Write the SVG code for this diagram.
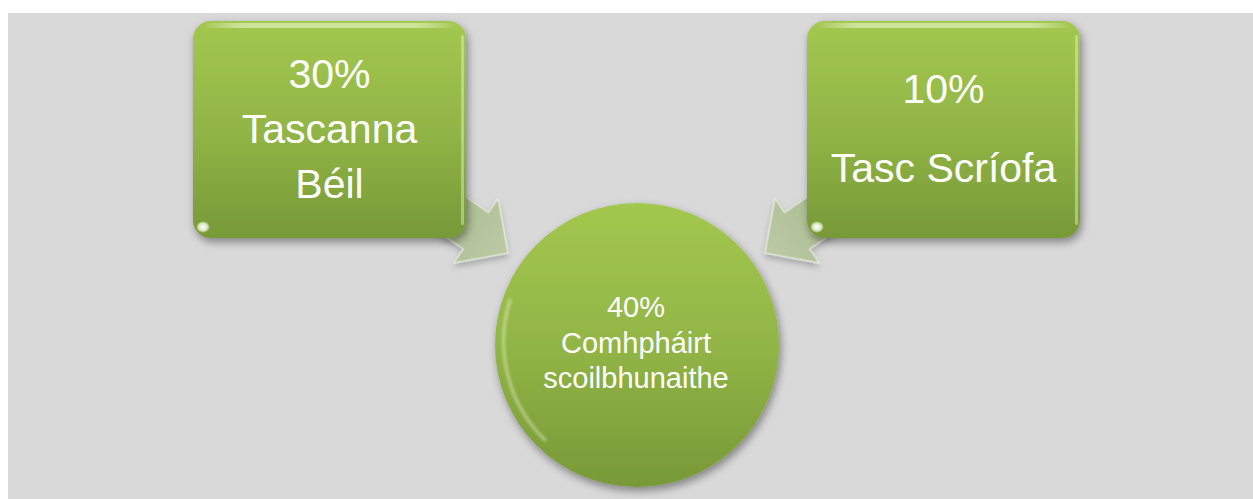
<svg xmlns="http://www.w3.org/2000/svg" width="1253" height="499" viewBox="0 0 1253 499">
  <style>
    .lbl { font-family: "Liberation Sans", Arial, sans-serif; fill: #ffffff; text-anchor: middle; }
    .big { font-size: 41px; }
    .small { font-size: 29px; }
    .box { fill: url(#gGreen); filter: url(#shadow); }
    .arrow { fill: url(#gArrow); stroke: #f4f8ec; stroke-width: 1.2; stroke-opacity: 0.7; filter: url(#shadowA); }
  </style>
  <defs>
    <linearGradient id="gGreen" x1="0" y1="0" x2="0" y2="1">
      <stop offset="0" stop-color="#a3c84f"/>
      <stop offset="0.5" stop-color="#92b546"/>
      <stop offset="1" stop-color="#779937"/>
    </linearGradient>
    <linearGradient id="gArrow" x1="0" y1="0" x2="1" y2="0">
      <stop offset="0" stop-color="#9fb384"/>
      <stop offset="1" stop-color="#bccaa5"/>
    </linearGradient>
    <linearGradient id="gTop" x1="0" y1="0" x2="1" y2="0">
      <stop offset="0" stop-color="#ffffff" stop-opacity="0"/>
      <stop offset="0.15" stop-color="#e8f5c8" stop-opacity="0.6"/>
      <stop offset="0.85" stop-color="#e8f5c8" stop-opacity="0.6"/>
      <stop offset="1" stop-color="#ffffff" stop-opacity="0"/>
    </linearGradient>
    <radialGradient id="gSpot" cx="0.5" cy="0.5" r="0.5">
      <stop offset="0" stop-color="#ffffff" stop-opacity="1"/>
      <stop offset="0.6" stop-color="#f4fbe6" stop-opacity="0.8"/>
      <stop offset="1" stop-color="#ffffff" stop-opacity="0"/>
    </radialGradient>
    <filter id="shadow" x="-10%" y="-10%" width="125%" height="130%">
      <feDropShadow dx="2" dy="4" stdDeviation="4" flood-color="#000000" flood-opacity="0.4"/>
    </filter>
    <filter id="shadowA" x="-20%" y="-20%" width="150%" height="150%">
      <feDropShadow dx="2" dy="3" stdDeviation="3" flood-color="#000000" flood-opacity="0.25"/>
    </filter>
    <filter id="soft" x="-20%" y="-20%" width="140%" height="140%">
      <feGaussianBlur stdDeviation="1.5"/>
    </filter>
  </defs>

  <rect x="0" y="0" width="1253" height="499" fill="#ffffff"/>
  <rect x="8" y="13" width="1245" height="486" fill="#d9d9d9"/>

  <g id="connectors">
    <path class="arrow" d="M0,0 L-39,-39 L-39,-22 L-130,-22 L-130,22 L-39,22 L-39,39 Z" transform="translate(508,253) rotate(34.6)"/>
    <path class="arrow" d="M0,0 L-39,-39 L-39,-22 L-130,-22 L-130,22 L-39,22 L-39,39 Z" transform="translate(765,253) scale(-1,1) rotate(34.6)"/>
  </g>

  <g id="node-oral">
    <rect class="box" x="193" y="21" width="273" height="217" rx="18" ry="18"/>
    <rect x="203" y="23" width="253" height="5" rx="2.5" fill="url(#gTop)"/>
    <rect x="461" y="35" width="3" height="190" rx="1.5" fill="#e6f3c6" opacity="0.45"/>
    <ellipse cx="203" cy="227" rx="7" ry="6" fill="url(#gSpot)"/>
    <text class="lbl big" x="329.5" y="88">30%</text>
    <text class="lbl big" x="329.5" y="143">Tascanna</text>
    <text class="lbl big" x="329.5" y="198">Béil</text>
  </g>

  <g id="node-written">
    <rect class="box" x="807" y="21" width="273" height="217" rx="18" ry="18"/>
    <rect x="817" y="23" width="253" height="5" rx="2.5" fill="url(#gTop)"/>
    <rect x="1075" y="35" width="3" height="190" rx="1.5" fill="#e6f3c6" opacity="0.45"/>
    <ellipse cx="817" cy="227" rx="7" ry="6" fill="url(#gSpot)"/>
    <text class="lbl big" x="943.5" y="103">10%</text>
    <text class="lbl big" x="943.5" y="182">Tasc Scríofa</text>
  </g>

  <g id="node-school">
    <circle class="box" cx="637" cy="345" r="142"/>
    <path d="M510,300 A138,138 0 0 0 545,440" fill="none" stroke="#f1f9de" stroke-width="2.5" stroke-linecap="round" opacity="0.55" filter="url(#soft)"/>
    <text class="lbl small" x="636" y="317">40%</text>
    <text class="lbl small" x="636" y="353">Comhpháirt</text>
    <text class="lbl small" x="636" y="388">scoilbhunaithe</text>
  </g>
</svg>
